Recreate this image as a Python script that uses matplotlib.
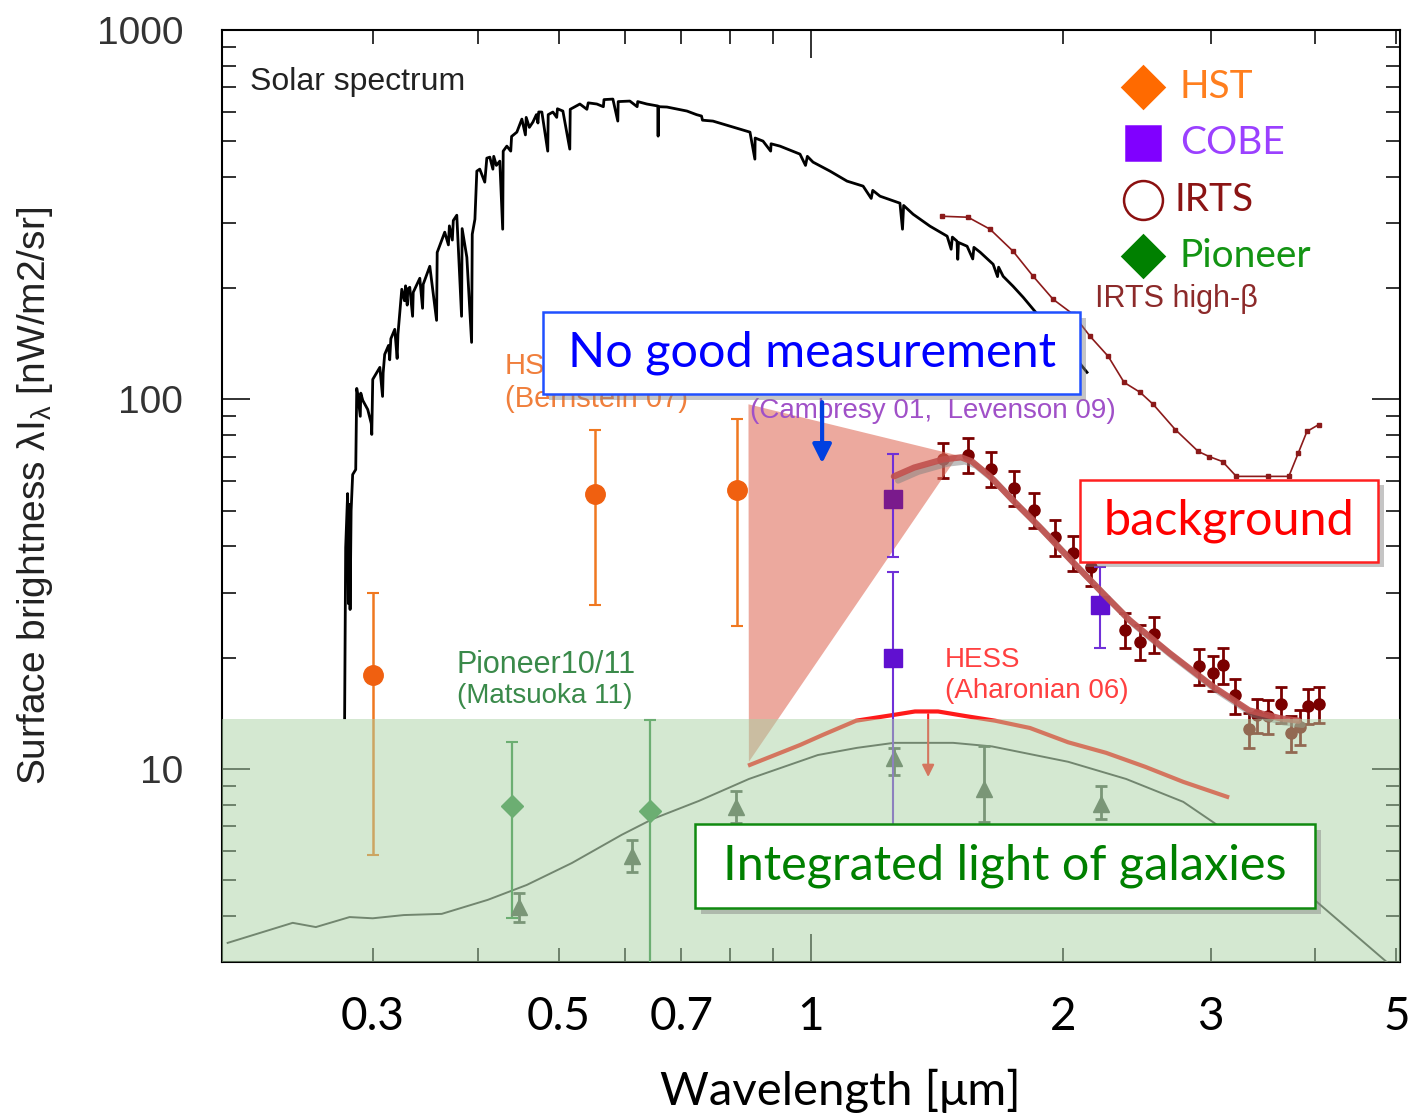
import numpy as np
import matplotlib
matplotlib.use("Agg")
import matplotlib.pyplot as plt
import matplotlib.patheffects as pe
from matplotlib.patches import Polygon, Rectangle
from matplotlib.ticker import FixedLocator, FixedFormatter, NullFormatter

plt.rcParams.update({
    "font.family": ["Liberation Sans", "DejaVu Sans"],
    "mathtext.default": "regular",
    "axes.linewidth": 1.5,
})
CAL = ["Lato", "DejaVu Sans"]

# ---- solar spectrum (scaled) ----
solar_wl = [0.2774, 0.2782, 0.2797, 0.2803, 0.2809, 0.2816, 0.2824, 0.2836, 0.2860, 0.2868,
            0.2876, 0.2896, 0.2900, 0.2916, 0.2956, 0.2985, 0.2989, 0.2997, 0.3056, 0.3079,
            0.3084, 0.3097, 0.3130, 0.3140, 0.3150, 0.3184, 0.3205, 0.3212, 0.3246, 0.3270,
            0.3280, 0.3295, 0.3300, 0.3318, 0.3344, 0.3350, 0.3411, 0.3437, 0.3443, 0.3506,
            0.3572, 0.3578, 0.3653, 0.3690, 0.3700, 0.3730, 0.3740, 0.3776, 0.3826, 0.3832,
            0.3882, 0.3933, 0.3940, 0.3969, 0.3990, 0.4022, 0.4078, 0.4101, 0.4135, 0.4170,
            0.4180, 0.4210, 0.4250, 0.4284, 0.4290, 0.4333, 0.4380, 0.4390, 0.4454, 0.4516,
            0.4560, 0.4570, 0.4610, 0.4655, 0.4700, 0.4720, 0.4730, 0.4771, 0.4849, 0.4855,
            0.4918, 0.4970, 0.4980, 0.5055, 0.5152, 0.5158, 0.5297, 0.5400, 0.5420, 0.5550,
            0.5650, 0.5660, 0.5800, 0.5879, 0.5885, 0.6077, 0.6200, 0.6210, 0.6368, 0.6565,
            0.6568, 0.6571, 0.6729, 0.7110, 0.7300, 0.7400, 0.7420, 0.7637, 0.8070, 0.8455,
            0.8570, 0.8576, 0.8764, 0.8950, 0.8960, 0.9182, 0.9702, 0.9850, 0.9900, 1.0055,
            1.0537, 1.104, 1.154, 1.180, 1.185, 1.209, 1.277, 1.286, 1.290, 1.324,
            1.387, 1.454, 1.470, 1.475, 1.494, 1.497, 1.500, 1.536, 1.560, 1.565,
            1.592, 1.650, 1.670, 1.675, 1.696, 1.743, 1.792, 1.842, 1.930, 2.039,
            2.136]
solar_flux = [13.75, 39.7, 55.6, 28.0, 52.0, 27.0, 50.0, 62.6, 64.6, 107.1,
              103.0, 90.0, 104.0, 99.4, 93.9, 86.0, 80.4, 113.3, 122.1, 101.9,
              118.0, 132.4, 140.0, 128.0, 146.0, 154.8, 129.1, 150.0, 198.7, 185.0,
              203.0, 180.0, 199.0, 201.2, 167.9, 195.0, 212.8, 176.5, 205.0, 229.3,
              163.7, 250.0, 283.6, 262.0, 295.0, 270.0, 305.0, 315.2, 167.9, 290.0,
              242.5, 142.7, 280.0, 307.4, 414.9, 420.1, 387.4, 449.9, 452.7, 420.0,
              455.0, 430.0, 441.6, 288.9, 470.0, 484.9, 470.0, 515.0, 529.1, 573.9,
              520.0, 580.0, 545.0, 563.3, 590.0, 560.0, 600.0, 599.7, 470.0, 590.0,
              599.7, 580.0, 612.0, 603.4, 475.9, 610.0, 630.4, 610.0, 635.0, 630.4,
              620.0, 648.0, 650.1, 566.8, 640.0, 642.1, 620.0, 640.0, 630.4, 622.6,
              516.0, 620.0, 618.7, 603.4, 590.0, 585.0, 570.0, 566.8, 546.0, 529.1,
              447.1, 510.0, 500.3, 470.0, 492.0, 484.9, 461.3, 430.0, 455.0, 438.9,
              414.9, 389.9, 377.9, 350.0, 368.0, 354.9, 339.8, 288.9, 335.0, 317.2,
              294.4, 276.6, 255.0, 275.0, 268.1, 239.5, 266.0, 259.8, 240.0, 258.0,
              250.3, 232.2, 215.0, 228.0, 215.4, 202.4, 189.0, 175.4, 154.8, 134.9,
              118.4]

# ---- IRTS high-beta spectrum ----
irts_hb_wl = [1.434, 1.540, 1.636, 1.743, 1.842, 1.946, 2.056, 2.154, 2.264, 2.365,
              2.472, 2.563, 2.722, 2.900, 2.990, 3.100, 3.220, 3.510, 3.720, 3.820,
              3.910, 4.040]
irts_hb_flux = [313.2, 311.3, 288.9, 251.8, 215.4, 186.6, 170.0, 148.2, 130.8, 111.2,
                104.5, 96.9, 82.9, 72.3, 70.0, 67.9, 61.9, 61.9, 61.9, 71.8,
                81.9, 85.5]

# ---- IRTS points ----
irts_wl = [1.438, 1.540, 1.641, 1.748, 1.846, 1.956, 2.056, 2.161, 2.372, 2.472,
           2.570, 2.908, 3.020, 3.105, 3.210, 3.410, 3.515, 3.643, 3.925, 4.045,
           3.330, 3.740, 3.840]
irts_flux = [68.8, 70.9, 65.0, 57.7, 50.3, 42.5, 38.5, 35.1, 23.8, 22.1,
             23.2, 19.0, 18.2, 19.1, 15.8, 14.0, 13.9, 15.0, 14.8, 15.0,
             12.8, 12.5, 13.0]
irts_err = [7.6, 7.8, 7.2, 6.3, 5.5, 4.7, 4.2, 3.9, 2.6, 2.4,
            2.6, 2.1, 2.0, 2.1, 1.7, 1.5, 1.5, 1.7, 1.6, 1.7,
            1.4, 1.4, 1.4]

# ---- background fit ----
bg_wl = [1.256, 1.328, 1.438, 1.511, 1.557, 1.636, 1.738, 1.872, 2.039, 2.227,
         2.399, 2.678, 3.020, 3.335, 3.633, 3.820]
bg_flux = [61.9, 65.4, 68.8, 69.7, 67.9, 61.9, 53.6, 45.3, 36.9, 30.0,
           25.3, 20.6, 16.7, 14.4, 13.7, 13.5]

# ---- HST (Bernstein 07) ----
hst_wl = [0.300, 0.552, 0.816]
hst_flux = [17.9, 55.3, 57.0]
hst_lo = [5.85, 27.8, 24.3]
hst_hi = [30.0, 82.9, 88.3]

# ---- COBE (Cambresy 01, Levenson 09) ----
cobe_wl = [1.253, 1.253, 2.214]
cobe_flux = [53.6, 20.0, 27.8]
cobe_lo = [37.5, 5.0, 21.3]
cobe_hi = [71.0, 34.2, 35.1]
cobe_colors = ["#7a1a8c", "#6010d0", "#6010d0"]

# ---- Pioneer 10/11 (Matsuoka 11) ----
pio_wl = [0.439, 0.642]
pio_flux = [7.94, 7.70]
pio_lo = [3.95, 2.90]
pio_hi = [11.8, 13.6]

# ---- galaxy counts ----
gal_wl = [0.4478, 0.6111, 0.8136, 1.256, 1.609, 2.221]
gal_flux = [4.23, 5.81, 7.88, 10.7, 8.83, 8.04]
gal_lo = [3.85, 5.27, 7.13, 9.6, 7.2, 7.3]
gal_hi = [4.60, 6.43, 8.70, 11.4, 11.5, 9.0]

# ---- integrated galaxy light model ----
model_wl = [0.2011, 0.2405, 0.2563, 0.2812, 0.2997, 0.3264, 0.3623, 0.4112, 0.4577, 0.5181,
            0.5943, 0.6474, 0.7349, 0.8432, 1.019, 1.135, 1.256, 1.478, 1.645, 2.028,
            2.378, 2.783, 3.030, 4.020, 4.920]
model_flux = [3.38, 3.83, 3.73, 3.97, 3.94, 4.02, 4.05, 4.42, 4.85, 5.56,
              6.63, 7.32, 8.19, 9.39, 10.9, 11.4, 11.76, 11.76, 11.5, 10.45,
              9.39, 8.14, 7.14, 4.36, 2.94]

# ---- HESS upper limit (Aharonian 06) ----
hess_wl = [0.8455, 0.970, 1.034, 1.132, 1.256, 1.331, 1.418, 1.528, 1.659, 1.826,
           2.028, 2.251, 2.506, 2.783, 3.140]
hess_flux = [10.25, 11.6, 12.37, 13.5, 14.0, 14.3, 14.3, 13.9, 13.5, 12.9,
             11.8, 11.05, 10.13, 9.22, 8.4]

# shaded "no good measurement" wedge
gap_wl = [0.8420, 1.498, 0.8430]
gap_flux = [97.0, 70.5, 10.45]
galaxy_band_top = 13.66

legend_names = ["HST", "COBE", "IRTS", "Pioneer"]
legend_marker_colors = ["#ff6a00", "#8000ff", "#8b1010", "#008000"]
legend_text_colors = ["#ff7f1e", "#9b40ff", "#8b1414", "#139413"]
legend_markers = ["D", "s", "o", "D"]
legend_sizes = [21, 24, 28, 21]

xtick_vals = [0.3, 0.5, 0.7, 1, 2, 3, 5]
xtick_minor = [0.3, 0.4, 0.5, 0.6, 0.7, 0.8, 0.9, 2, 3, 4, 5]
ytick_vals = [10, 100, 1000]

fig = plt.figure(figsize=(14.13, 11.15), dpi=100)
ax = fig.add_axes([0.1571, 0.1372, 0.8337, 0.8359])
ax.set_xscale("log")
ax.set_yscale("log")
ax.set_xlim(0.198, 5.05)
ax.set_ylim(3.0, 1000)

# data
ax.plot(solar_wl, solar_flux, color="black", lw=2.0, zorder=3)
ax.plot(irts_hb_wl, irts_hb_flux, color="#8b1a1a", lw=1.2, marker="s", ms=3, zorder=3)
ax.plot(model_wl, model_flux, color="#3a3a3a", lw=1.4, zorder=3)
ax.plot(hess_wl, hess_flux, color="#ff1a1a", lw=3.0, zorder=3)
ax.annotate("", xy=(1.38, 9.34), xytext=(1.38, 14.3),
            arrowprops=dict(arrowstyle="-|>", color="#ff1a1a", lw=1.5,
                            mutation_scale=18), zorder=3)

hst_err = [np.subtract(hst_flux, hst_lo), np.subtract(hst_hi, hst_flux)]
ax.errorbar(hst_wl, hst_flux, yerr=hst_err, fmt="o", color="#f06010", ecolor="#f07820",
            ms=14, elinewidth=1.8, capsize=4, capthick=1.5, zorder=4)

for i in range(len(cobe_wl)):
    ax.errorbar([cobe_wl[i]], [cobe_flux[i]],
                yerr=[[cobe_flux[i] - cobe_lo[i]], [cobe_hi[i] - cobe_flux[i]]],
                fmt="s", color=cobe_colors[i], ecolor="#7030d8",
                ms=13, elinewidth=1.5, capsize=4, capthick=1.5, zorder=6.5)

ax.errorbar(irts_wl, irts_flux, yerr=irts_err, fmt="o", color="#7a0000", ecolor="#7a0000",
            ms=8, elinewidth=2, capsize=4, capthick=2, zorder=4)

pio_err = [np.subtract(pio_flux, pio_lo), np.subtract(pio_hi, pio_flux)]
ax.errorbar(pio_wl, pio_flux, yerr=pio_err, fmt="D", color="#2e8a40", ecolor="#2e8a40",
            ms=11, elinewidth=1.6, capsize=4, capthick=1.5, zorder=4)

gal_err = [np.subtract(gal_flux, gal_lo), np.subtract(gal_hi, gal_flux)]
ax.errorbar(gal_wl, gal_flux, yerr=gal_err, fmt="^", color="#4a5a4a", ecolor="#4a5a4a",
            ms=12, elinewidth=2, capsize=4, capthick=2, zorder=4)

bg_line, = ax.plot(bg_wl, bg_flux, color="#c0504d", lw=4.5, alpha=0.9, zorder=6.6,
                   solid_capstyle="round")
bg_line.set_path_effects([pe.SimpleLineShadow(offset=(3, -3), shadow_color="gray", alpha=0.5),
                          pe.Normal()])

# overlays
ax.add_patch(Polygon(list(zip(gap_wl, gap_flux)), closed=True, facecolor="#e0705e",
                     alpha=0.6, edgecolor="none", zorder=6))
ax.axhspan(ax.get_ylim()[0], galaxy_band_top, facecolor="#aad2a5", alpha=0.5,
           edgecolor="none", zorder=7)

# labels on curves
ax.text(0.2138, 722, "Solar spectrum", fontsize=23, color="#222222", va="center", zorder=8)
ax.text(2.185, 186.6, "IRTS high-β", fontsize=22, color="#8c2a2a", va="center", zorder=8)
ax.text(0.4309, 122.9, "HST", fontsize=21, color="#f07f3c", va="center", zorder=8)
ax.text(0.4309, 100, "(Bernstein 07)", fontsize=21, color="#f07f3c", va="center", zorder=8)
ax.text(0.8455, 92.8, "(Cambresy 01,  Levenson 09)", fontsize=20, color="#a050c8",
        va="center", zorder=8)
ax.text(1.446, 19.7, "HESS", fontsize=20, color="#ff4040", va="center", zorder=8)
ax.text(1.446, 16.2, "(Aharonian 06)", fontsize=20, color="#ff4040", va="center", zorder=8)
ax.text(0.3776, 19.1, "Pioneer10/11", fontsize=22, color="#3a8a4a", va="center", zorder=8)
ax.text(0.3776, 15.7, "(Matsuoka 11)", fontsize=20, color="#3a8a4a", va="center", zorder=8)

ax.annotate("", xy=(1.031, 66.0), xytext=(1.031, 100),
            arrowprops=dict(arrowstyle="-|>", color="#0040e0", lw=3, mutation_scale=28),
            zorder=9)

# boxed callouts
def callout(x0, y0, w, h, text, color, edge):
    box = Rectangle((x0, y0), w, h, transform=ax.transAxes, facecolor="white",
                    edgecolor=edge, lw=1.8, zorder=10)
    box.set_path_effects([pe.withSimplePatchShadow(offset=(4, -4), shadow_rgbFace="gray",
                                                   alpha=0.45)])
    ax.add_patch(box)
    ax.text(x0 + w / 2, y0 + h / 2, text, transform=ax.transAxes, ha="center",
            va="center", fontsize=35, color=color, family=CAL, zorder=11)

callout(0.2725, 0.6094, 0.4559, 0.0880, "No good measurement", "#0000ff", "#2050ff")
callout(0.7284, 0.4293, 0.2530, 0.0880, "background", "#ff0000", "#ff2020")
callout(0.4015, 0.0579, 0.5263, 0.0901, "Integrated light of galaxies", "#008000", "#108a10")

# legend
for i, name in enumerate(legend_names):
    yy = 0.9388 - i * 0.0605
    mfc = "none" if legend_markers[i] == "o" else legend_marker_colors[i]
    ax.plot([0.7818], [yy], marker=legend_markers[i], ms=legend_sizes[i], mfc=mfc,
            mec=legend_marker_colors[i], mew=1.8, transform=ax.transAxes,
            clip_on=False, zorder=12, ls="none")
    ax.text(0.8132 if name != "IRTS" else 0.8090, yy, name, transform=ax.transAxes,
            fontsize=28, color=legend_text_colors[i], va="center", family=CAL, zorder=12)

# axes and ticks
ax.xaxis.set_major_locator(FixedLocator([1]))
ax.xaxis.set_minor_locator(FixedLocator(xtick_minor))
ax.xaxis.set_major_formatter(NullFormatter())
ax.xaxis.set_minor_formatter(NullFormatter())
ax.yaxis.set_major_locator(FixedLocator(ytick_vals))
ax.yaxis.set_minor_locator(FixedLocator([m * d for d in (1, 10, 100) for m in range(2, 10)]))
ax.yaxis.set_major_formatter(FixedFormatter([str(v) for v in ytick_vals]))
ax.yaxis.set_minor_formatter(NullFormatter())
ax.tick_params(which="both", direction="in", top=True, right=True, width=1.3, color="#222222")
ax.tick_params(which="major", length=20)
ax.tick_params(which="minor", length=10)
ax.tick_params(axis="y", which="major", labelsize=28, labelcolor="#333333", pad=28)

for v in xtick_vals:
    ax.text(v, -0.036, "1" if v == 1 else f"{v:g}", transform=ax.get_xaxis_transform(),
            ha="center", va="top", fontsize=33, family=CAL, color="black")

ax.set_xlabel("Wavelength [μm]", fontsize=34, family=CAL, color="black")
ax.xaxis.set_label_coords(0.5246, -0.114)
ax.set_ylabel("Surface brightness λI$_λ$ [nW/m2/sr]", fontsize=28, color="#222222")
ax.yaxis.set_label_coords(-0.142, 0.5)

fig.savefig("out.png", dpi=100)
